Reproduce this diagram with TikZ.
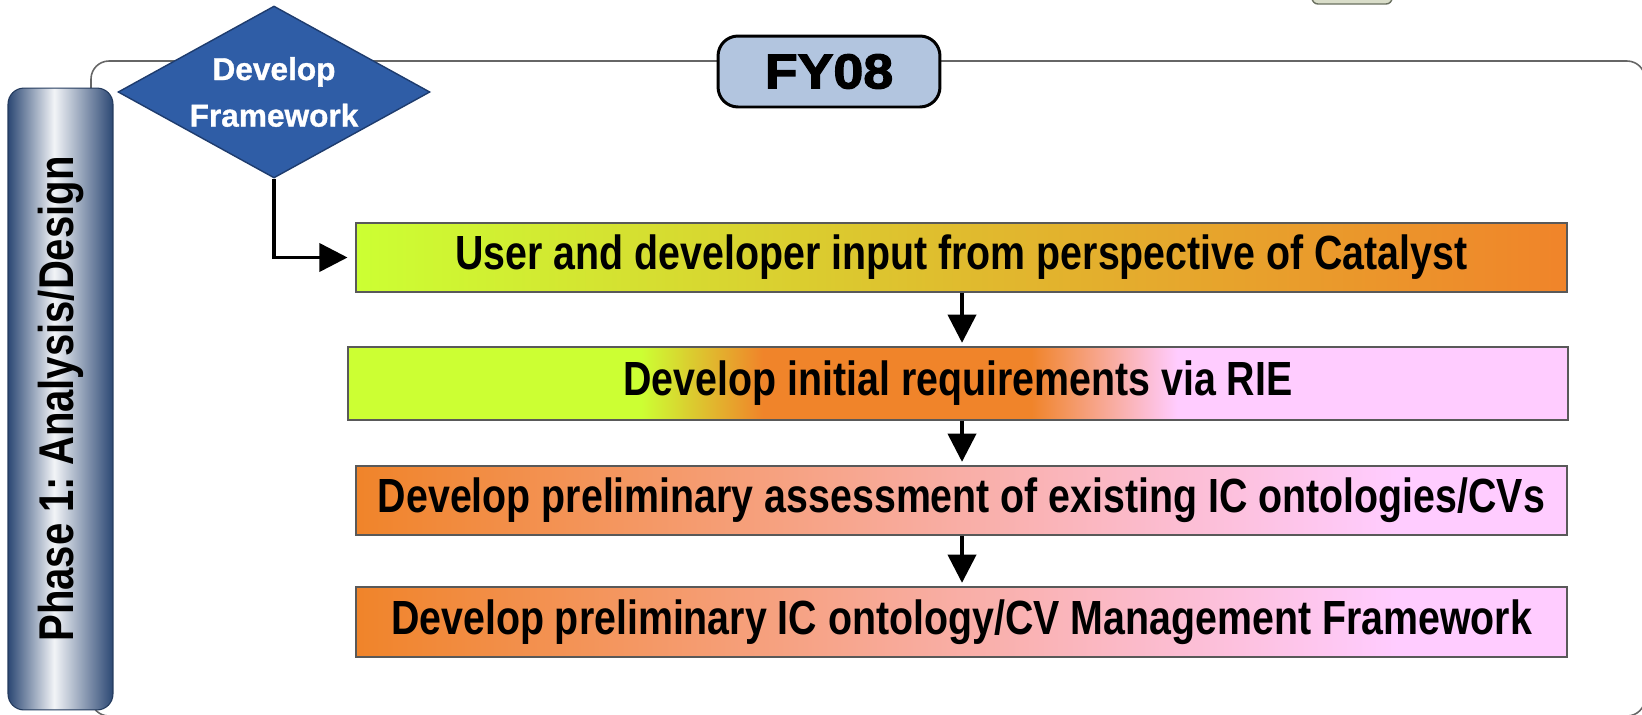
\documentclass[tikz,border=0pt]{standalone}
\usepackage{fontspec}
\setmainfont{Liberation Sans}
\newfontfamily\narrowfont{Liberation Sans}[FakeStretch=0.82]
\newfontfamily\widefont{Liberation Sans}[FakeStretch=1.1,FakeBold=2.5]
\newfontfamily\boldwhite{Liberation Sans}[FakeBold=1]
\usetikzlibrary{shapes.geometric,arrows.meta}
\definecolor{lime}{HTML}{CCFF33}
\definecolor{orng}{HTML}{F0842A}
\definecolor{pinkk}{HTML}{FFCCFF}
\definecolor{navy}{HTML}{2C4874}
\definecolor{barlight}{HTML}{F2F4F7}
\definecolor{dblue}{HTML}{2F5DA6}
\definecolor{dblueline}{HTML}{1E3C6E}
\definecolor{fyblue}{HTML}{B2C5DF}
\definecolor{topfill}{HTML}{D9DDC9}
\definecolor{topline}{HTML}{6A7060}
\pgfdeclarehorizontalshading{phasebar}{100bp}{color(0bp)=(navy); color(25bp)=(navy); color(47bp)=(barlight); color(75bp)=(navy); color(100bp)=(navy)}
\pgfdeclarehorizontalshading{ridshade}{100bp}{color(0bp)=(lime); color(37bp)=(lime); color(42bp)=(orng); color(53bp)=(orng); color(59bp)=(pinkk); color(100bp)=(pinkk)}
\pgfdeclarehorizontalshading{lofshade}{100bp}{color(0bp)=(lime); color(25bp)=(lime); color(50bp)=(orng!55!lime); color(75bp)=(orng); color(100bp)=(orng)}
\pgfdeclarehorizontalshading{opshade}{100bp}{color(0bp)=(orng); color(25bp)=(orng); color(68bp)=(pinkk); color(75bp)=(pinkk); color(100bp)=(pinkk)}
\frenchspacing
\begin{document}
\begin{tikzpicture}[x=0.02cm,y=-0.02cm,
  frame/.style={draw=black!60, line width=0.9pt, rounded corners=0.36cm},
  stepbox/.style={draw=black!65, line width=0.8pt, minimum width=24.22cm, minimum height=1.38cm, inner sep=0pt,
     font=\narrowfont\bfseries\fontsize{27.3}{30}\selectfont},
  conn/.style={line width=2pt, -{Triangle[length=16pt,width=16pt]}},
  ]
\useasboundingbox (0,0) rectangle (1642,714);
\clip (0,0) rectangle (1642,714);
% outer frame
\draw[frame] (91,716) -- (91,61) -- (1645,61) -- (1645,716) -- cycle;
% top partial box
\path[fill=topfill, draw=topline, line width=0.8pt, rounded corners=0.12cm] (1312,-20) rectangle (1392,4);
% FY08
\node[draw=black, line width=1.7pt, fill=fyblue, rounded corners=0.4cm, minimum width=4.44cm, minimum height=1.42cm, inner sep=0pt,
  font=\widefont\bfseries\fontsize{27.8}{30}\selectfont] (fy) at (829,71.5) {FY08};
% phase bar
\node[draw=navy!80!black, line width=0.6pt, shading=phasebar, rounded corners=0.32cm, minimum width=2.1cm, minimum height=12.44cm, inner sep=0pt,
  label={[rotate=90, font=\narrowfont\bfseries\fontsize{27.8}{30}\selectfont]center:Phase 1: Analysis/Design}] (phase) at (60.5,399) {};
% diamond
\node[diamond, draw=dblueline, line width=0.8pt, fill=dblue, minimum width=6.24cm, minimum height=3.44cm, inner sep=0pt,
  label={[align=center, text=white, font=\boldwhite\bfseries\fontsize{18}{26.5}\selectfont]center:Develop\\Framework}] (dev) at (274,92) {};
% step boxes
\node[stepbox, shading=lofshade] (b1) at (961.5,257.5) {User and developer input from perspective of Catalyst};
\node[stepbox, shading=ridshade, minimum width=24.4cm, minimum height=1.46cm] (b2) at (958,383.5) {Develop initial requirements via RIE};
\node[stepbox, shading=opshade] (b3) at (961.5,500.5) {Develop preliminary assessment of existing IC ontologies/CVs};
\node[stepbox, shading=opshade, minimum height=1.40cm] (b4) at (961.5,622) {Develop preliminary IC ontology/CV Management Framework};
% connectors
\draw[conn, shorten >=4.5pt] (dev.south) |- (b1.west);
\draw[conn, shorten >=2pt] (b1.south -| 962,0) -- (b2.north -| 962,0);
\draw[conn, shorten >=2pt] (b2.south -| 962,0) -- (b3.north -| 962,0);
\draw[conn, shorten >=2pt] (b3.south -| 962,0) -- (b4.north -| 962,0);
\end{tikzpicture}
\end{document}
